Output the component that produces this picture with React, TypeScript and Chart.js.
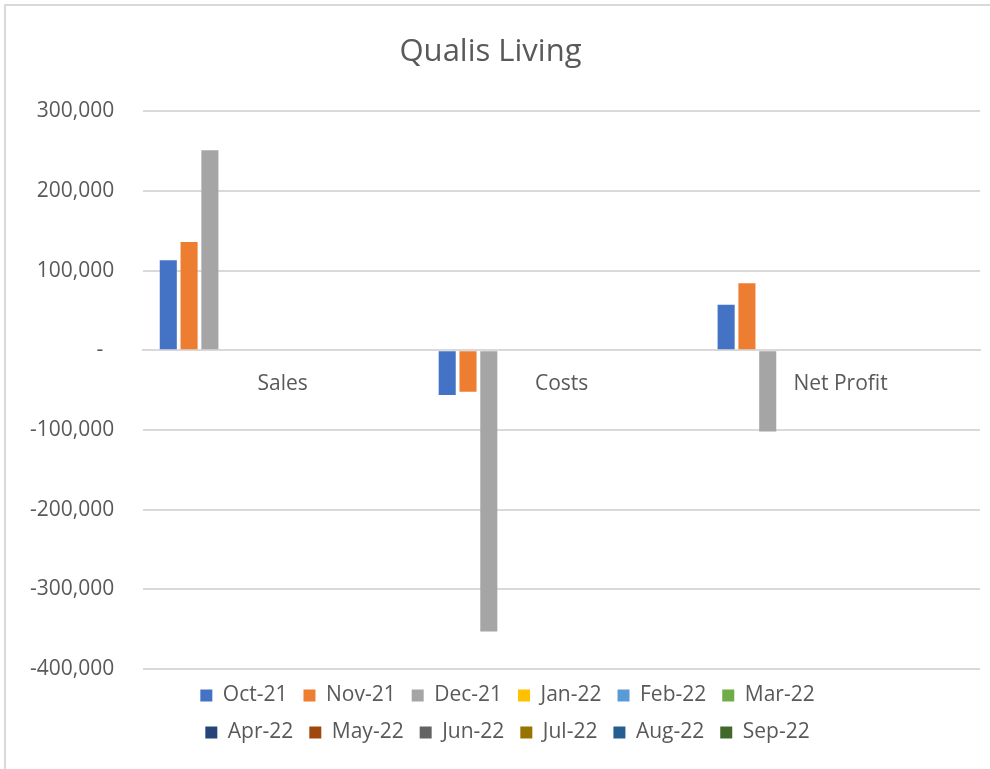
import React, { useEffect, useRef } from "react";
import { Chart, registerables, Legend } from "chart.js";

Chart.register(...registerables);

const categories = ["Sales", "Costs", "Net Profit"];
const months = ["Oct-21", "Nov-21", "Dec-21", "Jan-22", "Feb-22", "Mar-22", "Apr-22", "May-22", "Jun-22", "Jul-22", "Aug-22", "Sep-22"];
const oct21 = [113000, -56000, 57000];
const nov21 = [136000, -52000, 84000];
const dec21 = [251000, -353000, -102000];
const jan22 = [null, null, null];
const feb22 = [null, null, null];
const mar22 = [null, null, null];
const apr22 = [null, null, null];
const may22 = [null, null, null];
const jun22 = [null, null, null];
const jul22 = [null, null, null];
const aug22 = [null, null, null];
const sep22 = [null, null, null];
const seriesValues = [oct21, nov21, dec21, jan22, feb22, mar22, apr22, may22, jun22, jul22, aug22, sep22];
const colors = ["#4472C4", "#ED7D31", "#A5A5A5", "#FFC000", "#5B9BD5", "#70AD47", "#264478", "#9E480E", "#636363", "#997300", "#255E91", "#43682B"];
const yMin = -400000;
const yMax = 300000;
const yStep = 100000;

const FONT = "'Open Sans', 'Noto Sans', sans-serif";
const TEXT = "#595959";
const LEGEND_WRAP = 660;
const LEGEND_SHIFT = 17;

// Limit legend row width so that it wraps into two rows of six items.
const LegendEl: any = (Legend as any)._element;
if (LegendEl && !LegendEl.prototype.__wrapPatched) {
  const origFit = LegendEl.prototype.fit;
  LegendEl.prototype.fit = function () {
    if (this.isHorizontal && this.isHorizontal()) {
      this.maxWidth = Math.min(this.maxWidth, LEGEND_WRAP);
    }
    return origFit.call(this);
  };
  const origDraw = LegendEl.prototype._draw;
  LegendEl.prototype._draw = function () {
    if (this.isHorizontal && this.isHorizontal()) {
      const l = this.left;
      const r = this.right;
      const c = (l + r) / 2 + LEGEND_SHIFT;
      this.left = c - LEGEND_WRAP / 2;
      this.right = c + LEGEND_WRAP / 2;
      try {
        origDraw.call(this);
      } finally {
        this.left = l;
        this.right = r;
      }
    } else {
      origDraw.call(this);
    }
  };
  LegendEl.prototype.__wrapPatched = true;
}

export default function App() {
  const ref = useRef<HTMLCanvasElement | null>(null);
  useEffect(() => {
    if (!ref.current) return;
    const chart = new Chart(ref.current, {
      type: "bar",
      data: {
        labels: categories,
        datasets: months.map((m, i) => ({
          label: m,
          data: seriesValues[i] as any,
          backgroundColor: colors[i],
          borderWidth: 0,
          categoryPercentage: 0.895,
          barPercentage: 0.82,
        })),
      },
      options: {
        animation: false,
        responsive: false,
        maintainAspectRatio: false,
        layout: { padding: { left: 1, right: 10, top: 0, bottom: 16 } },
        plugins: {
          title: {
            display: true,
            text: "Qualis Living",
            color: TEXT,
            font: { family: FONT, size: 31, weight: "normal" as any },
            padding: { top: 34, bottom: 40 },
          },
          legend: {
            position: "bottom",
            labels: {
              color: TEXT,
              font: { family: FONT, size: 21 },
              boxWidth: 12,
              boxHeight: 12,
              padding: 16,
            },
          },
          tooltip: { enabled: false },
        },
        scales: {
          x: {
            position: { y: 0 } as any,
            grid: { display: false, drawTicks: false },
            border: { display: true, color: "#d9d9d9", width: 2 },
            ticks: { color: TEXT, font: { family: FONT, size: 21 }, padding: 21 },
          },
          y: {
            min: yMin,
            max: yMax,
            grid: { color: "#d9d9d9", lineWidth: 2, drawTicks: false },
            border: { display: false },
            ticks: {
              stepSize: yStep,
              color: TEXT,
              font: { family: FONT, size: 21 },
              padding: 29,
              callback: (v: any) => (Number(v) === 0 ? "-  " : Number(v).toLocaleString("en-US")),
            },
          },
        },
      },
    });
    return () => chart.destroy();
  }, []);

  return (
    <div style={{ position: "fixed", left: 0, top: 0, width: 990, height: 769, background: "#fff", overflow: "hidden" }}>
      <div style={{ position: "absolute", left: 4, top: 4, width: 1100, height: 900, borderLeft: "2px solid #d9d9d9", borderTop: "2px solid #d9d9d9" }} />
      <canvas ref={ref} width={990} height={769} style={{ position: "absolute", left: 0, top: 0, width: 990, height: 769 }} />
    </div>
  );
}
